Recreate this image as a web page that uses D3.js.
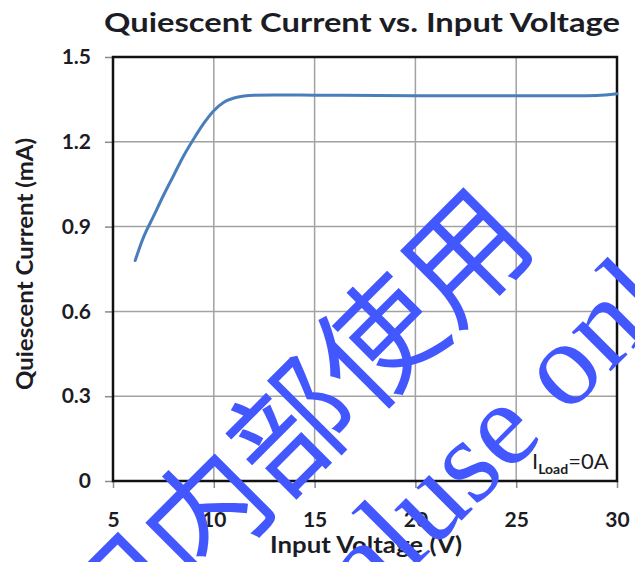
<!DOCTYPE html>
<html>
<head>
<meta charset="utf-8">
<script src="https://cdn.jsdelivr.net/npm/d3@7"></script>
<style>
  html, body { margin: 0; padding: 0; background: #fff; }
  svg { display: block; }
</style>
</head>
<body>
<svg id="chart" width="635" height="562"></svg>
<script>
// ---- data ----
const voltage = [6.1, 6.5, 7.0, 7.5, 8.0, 8.5, 9.0, 9.5, 10.0, 10.5, 11.0, 11.5, 12.0, 13.0, 15.0, 20.0, 25.0, 28.0, 29.0, 30.0];
const current = [0.78, 0.86, 0.935, 1.01, 1.08, 1.15, 1.21, 1.265, 1.31, 1.34, 1.355, 1.362, 1.365, 1.366, 1.365, 1.363, 1.363, 1.363, 1.364, 1.37];
const xTicks = [5, 10, 15, 20, 25, 30];
const yTicks = [0, 0.3, 0.6, 0.9, 1.2, 1.5];
const titleText = "Quiescent Current vs. Input Voltage";
const xTitle = "Input Voltage (V)";
const yTitle = "Quiescent Current (mA)";
const watermarkCN = "公司内部使用";
const watermarkEN1 = "internal ";
const watermarkEN2 = "use only";

const svg = d3.select("#chart");
const margin = { left: 113, right: 18, top: 57, bottom: 81 };
const W = 635, H = 562;
const x = d3.scaleLinear().domain([5, 30]).range([margin.left, W - margin.right]);
const y = d3.scaleLinear().domain([0, 1.5]).range([H - margin.bottom, margin.top]);
const font = "Lato, 'Open Sans', sans-serif";
const textColor = "#1c1c24";

// gridlines
const grid = svg.append("g");
grid.selectAll("line.v").data(xTicks).join("line")
  .attr("x1", d => x(d)).attr("x2", d => x(d))
  .attr("y1", y(0)).attr("y2", y(1.5))
  .attr("stroke", "#a2a2a2").attr("stroke-width", 1.5);
grid.selectAll("line.h").data(yTicks).join("line")
  .attr("x1", x(5)).attr("x2", x(30))
  .attr("y1", d => y(d)).attr("y2", d => y(d))
  .attr("stroke", "#a2a2a2").attr("stroke-width", 1.5);

// axes
const xAxis = svg.append("g").attr("transform", `translate(0,${y(0)})`)
  .call(d3.axisBottom(x).tickValues(xTicks).tickSize(7).tickPadding(24).tickFormat(d3.format("d")));
const yAxis = svg.append("g").attr("transform", `translate(${x(5)},0)`)
  .call(d3.axisLeft(y).tickValues(yTicks).tickSize(8).tickPadding(14).tickFormat(d => d === 0 ? "0" : d3.format(".1f")(d)));
[xAxis, yAxis].forEach(a => {
  a.select(".domain").remove();
  a.selectAll(".tick line").attr("stroke", "#8a8a8a").attr("stroke-width", 1.5);
  a.selectAll(".tick text").attr("font-family", font).attr("font-weight", 700)
    .attr("font-size", 21).attr("fill", textColor);
});

// plot border
svg.append("rect")
  .attr("x", x(5)).attr("y", y(1.5))
  .attr("width", x(30) - x(5)).attr("height", y(0) - y(1.5))
  .attr("fill", "none").attr("stroke", "#111").attr("stroke-width", 2.5);

// curve
const line = d3.line().x((d, i) => x(voltage[i])).y(d => y(d)).curve(d3.curveMonotoneX);
svg.append("path").datum(current)
  .attr("d", line).attr("fill", "none")
  .attr("stroke", "#4a7ebb").attr("stroke-width", 3).attr("stroke-linecap", "round");

// title
svg.append("text").attr("x", 104).attr("y", 32)
  .attr("textLength", 516).attr("lengthAdjust", "spacingAndGlyphs")
  .attr("font-family", font).attr("font-weight", 700).attr("font-size", 26)
  .attr("fill", textColor).text(titleText);

// x title
svg.append("text").attr("x", 270).attr("y", 553)
  .attr("textLength", 192).attr("lengthAdjust", "spacingAndGlyphs")
  .attr("font-family", font).attr("font-weight", 700).attr("font-size", 22)
  .attr("fill", textColor).text(xTitle);

// y title
svg.append("text").attr("transform", "translate(33,390) rotate(-90)")
  .attr("textLength", 252).attr("lengthAdjust", "spacingAndGlyphs")
  .attr("font-family", font).attr("font-weight", 700).attr("font-size", 22)
  .attr("fill", textColor).text(yTitle);

// I_Load label
const lab = svg.append("text").attr("x", 532).attr("y", 469)
  .attr("font-family", font).attr("font-weight", 400).attr("font-size", 22).attr("fill", textColor);
lab.append("tspan").text("I");
lab.append("tspan").attr("font-size", 14).attr("dy", 5).attr("font-weight", 700).text("Load");
lab.append("tspan").attr("dy", -5).text("=0A");

// watermark
const wm = svg.append("g").attr("fill", "#4357ff");
wm.append("text").attr("transform", "translate(243,465) rotate(-45)")
  .attr("text-anchor", "middle").attr("dominant-baseline", "central")
  .attr("font-family", "'Noto Sans CJK SC', sans-serif").attr("font-size", 122)
  .text(watermarkCN);
wm.append("text").attr("transform", "translate(432,550) rotate(-45)")
  .attr("text-anchor", "end")
  .attr("font-family", "'Liberation Serif', serif").attr("font-size", 120)
  .text(watermarkEN1);
wm.append("text").attr("transform", "translate(432,550) rotate(-45)")
  .attr("text-anchor", "start")
  .attr("font-family", "'Liberation Serif', serif").attr("font-size", 120)
  .text(watermarkEN2);
</script>
</body>
</html>
